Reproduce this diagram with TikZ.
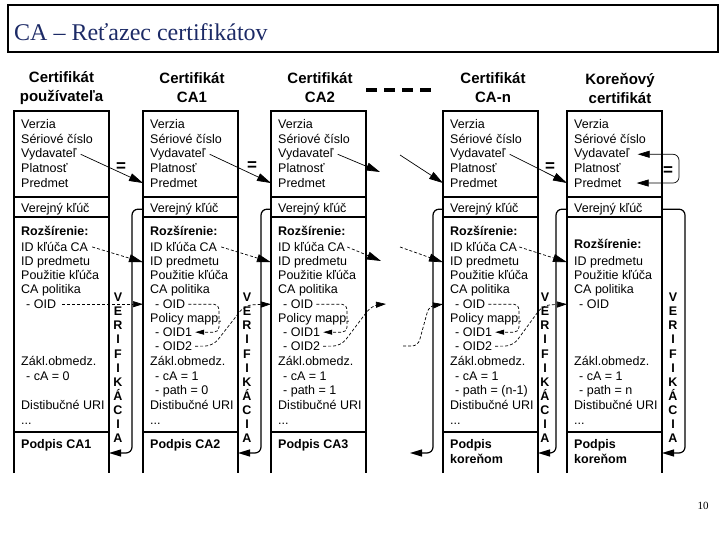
\documentclass[tikz,border=0pt]{standalone}
\usepackage{fontspec}
\setmainfont{Liberation Sans}
\newfontfamily\titlefont{Liberation Serif}
\usetikzlibrary{arrows.meta}
\definecolor{titleblue}{RGB}{28,42,102}

\begin{document}
\begin{tikzpicture}[x=1pt, y=-1pt,
    txt/.style={anchor=base west, inner sep=0pt, yshift=-4.5pt,
      font=\fontsize{12.5}{14}\selectfont},
    txtb/.style={txt, font=\fontsize{12.5}{14}\selectfont\bfseries},
    head/.style={align=center, inner sep=0pt, font=\fontsize{15}{19}\selectfont\bfseries},
    verif/.style={anchor=base, inner sep=0pt, yshift=-4.5pt,
      font=\fontsize{12.5}{14}\selectfont\bfseries},
    eqsign/.style={inner sep=0pt, font=\fontsize{17}{17}\selectfont\bfseries},
    colbox/.style={line width=1.2pt},
    issuer/.style={line width=0.7pt, -{Triangle[length=14pt,width=8pt]}},
    keyid/.style={line width=0.7pt, dash pattern=on 3pt off 2pt,
      -{Triangle[length=14pt,width=8pt]}},
    oidarrow/.style={line width=0.7pt, dash pattern=on 3pt off 2pt,
      -{Triangle[length=10pt,width=6pt]}},
    loopback/.style={line width=0.7pt, dash pattern=on 3pt off 2pt, rounded corners=5pt,
      -{Triangle[length=9pt,width=5pt]}},
    verarrow/.style={line width=1.2pt, rounded corners=6pt,
      -{Triangle[length=12pt,width=7pt]}}]
    \useasboundingbox (0,0) rectangle (720,540);

    \draw[line width=1.5pt] (8,5) rectangle (718,52);
    \node[anchor=base west, inner sep=0pt, text=titleblue,
      font=\titlefont\fontsize{24}{24}\selectfont] (title) at (14,41) {CA – Reťazec certifikátov};
    \node[anchor=base, inner sep=0pt, font=\titlefont\fontsize{11}{11}\selectfont] (pagenum) at (703,509) {10};

    \node[head] (h1) at (61.5,88) {Certifikát\\používateľa};
    \node[head] (h2) at (192,88) {Certifikát\\CA1};
    \node[head] (h3) at (320,88) {Certifikát\\CA2};
    \node[head] (h4) at (493,88) {Certifikát\\CA-n};
    \node[head] (h5) at (620,88) {Koreňový\\certifikát};
    \draw[line width=3.5pt, dash pattern=on 11pt off 7pt] (366,90) -- (433,90);

    \foreach \c/\x in {1/14,2/143,3/271,4/443,5/567} {
      \coordinate (l\c) at (\x,0);
      \coordinate (r\c) at (\x+95,0);
      \draw[colbox] (\x,473) -- (\x,111) -- (\x+95,111) -- (\x+95,473)
        (\x,217) -- (\x+95,217) (\x,432) -- (\x+95,432);
      \draw[line width=2.5pt] (\x,197) -- (\x+95,197);
      \node[txt] (ver\c) at (\x+7,124) {Verzia};
      \node[txt] (ser\c) at (\x+7,139) {Sériové číslo};
      \node[txt] (vyd\c) at (\x+7,153) {Vydavateľ};
      \node[txt] (pla\c) at (\x+7,168) {Platnosť};
      \node[txt] (pred\c) at (\x+7,183) {Predmet};
      \node[txt] (key\c) at (\x+7,208) {Verejný kľúč};
      \node[txt] (idp\c) at (\x+7,261) {ID predmetu};
      \node[txt] (pouz\c) at (\x+7,275) {Použitie kľúča};
      \node[txt] (pol\c) at (\x+7,289) {CA politika};
      \node[txt] (oid\c) at (\x+12,304) {- OID};
      \node[txt] (zakl\c) at (\x+7,361) {Zákl.obmedz.};
      \node[txt] (uri\c) at (\x+7,405) {Distibučné URI};
      \node[txt] (dots\c) at (\x+7,420) {...};
    }
    \foreach \c/\x in {1/14,2/143,3/271,4/443} {
      \node[txtb] (roz\c) at (\x+7,231) {Rozšírenie:};
      \node[txt] (idk\c) at (\x+7,247) {ID kľúča CA};
    }
    \node[txtb] (roz5) at (574,244) {Rozšírenie:};
    \foreach \c/\x in {2/143,3/271,4/443} {
      \node[txt] (map\c) at (\x+7,318) {Policy mapp.};
      \node[txt] (oida\c) at (\x+12,332) {- OID1};
      \node[txt] (oidb\c) at (\x+12,346) {- OID2};
    }
    \node[txt] (ca1) at (26,376) {- cA = 0};
    \node[txt] (ca2) at (155,376) {- cA = 1};
    \node[txt] (ca3) at (283,376) {- cA = 1};
    \node[txt] (ca4) at (455,376) {- cA = 1};
    \node[txt] (ca5) at (579,376) {- cA = 1};
    \node[txt] (path2) at (155,390) {- path = 0};
    \node[txt] (path3) at (283,390) {- path = 1};
    \node[txt] (path4) at (455,390) {- path = (n-1)};
    \node[txt] (path5) at (579,390) {- path = n};
    \node[txtb] (sig1) at (21,444) {Podpis CA1};
    \node[txtb] (sig2) at (150,444) {Podpis CA2};
    \node[txtb] (sig3) at (278,444) {Podpis CA3};
    \node[txtb] (sig4) at (450,444) {Podpis};
    \node[txtb] (sig4b) at (450,459) {koreňom};
    \node[txtb] (sig5) at (574,444) {Podpis};
    \node[txtb] (sig5b) at (574,459) {koreňom};

    \foreach \g in {118,247,545,673}
      \foreach \ch [count=\i] in {V,E,R,I,F,I,K,Á,C,I,A}
        \node[verif] (vl\g-\i) at (\g,283+14.1*\i) {\ch};

    \node[eqsign] (eq1) at (121,167) {=};
    \node[eqsign] (eq2) at (252,166) {=};
    \node[eqsign] (eq4) at (550,167) {=};
    \node[eqsign] (eq5) at (668,171) {=};

    \coordinate (gap1) at (380,172);
    \coordinate (gap2) at (400,155);
    \coordinate (gap3) at (381,261);
    \coordinate (gap4) at (400,247);
    \coordinate (gap5) at (386,304);
    \coordinate (gap6) at (403,346);
    \coordinate (gap7) at (410,453);
    \coordinate (sigarrow) at (0,453);
    \coordinate (rootloop) at (679,168);

    \draw[issuer] ([xshift=4pt]vyd1.east) -- (l2 |- pred2);
    \draw[issuer] ([xshift=4pt]vyd2.east) -- (l3 |- pred3);
    \draw[issuer] ([xshift=4pt]vyd3.east) -- (gap1);
    \draw[issuer] (gap2) -- (l4 |- pred4);
    \draw[issuer] ([xshift=4pt]vyd4.east) -- (l5 |- pred5);

    \draw[keyid] ([xshift=4pt]idk1.east) -- (l2 |- idp2);
    \draw[keyid] ([xshift=4pt]idk2.east) -- (l3 |- idp3);
    \draw[keyid] ([xshift=2pt]idk3.east) -- (gap3);
    \draw[keyid] (gap4) -- (l4 |- idp4);
    \draw[keyid] ([xshift=2pt]idk4.east) -- (l5 |- idp5);

    \draw[oidarrow] ([xshift=6pt]oid1.east) -- (l2 |- oid2);
    \foreach \c/\x in {2/143,3/271,4/443}
      \draw[loopback] ([xshift=3pt]oid\c.east) -| (\x+76,318) |- ([xshift=3pt]oida\c.east);
    \draw[oidarrow, rounded corners=8pt] ([xshift=3pt]oidb2.east) -- (213,346) -- (245,305) -- (l3 |- oid3);
    \draw[oidarrow, rounded corners=8pt] ([xshift=3pt]oidb3.east) -- (341,346) -- (372,305) -- (gap5);
    \draw[oidarrow, rounded corners=6pt] (gap6) -- (418,346) -- (429,306) -- (l4 |- oid4);
    \draw[oidarrow, rounded corners=8pt] ([xshift=3pt]oidb4.east) -- (513,346) -- (543,305) -- (l5 |- oid5);

    \draw[verarrow] (l2 |- key2) -- ++(-11,0) |- (r1 |- sigarrow);
    \draw[verarrow] (l3 |- key3) -- ++(-10,0) |- (r2 |- sigarrow);
    \draw[verarrow] (l4 |- key4) -- ++(-10,0) |- (gap7);
    \draw[verarrow] (l5 |- key5) -- ++(-11,0) |- (r4 |- sigarrow);
    \draw[verarrow] (r5 |- key5) -- ++(23,0) |- (r5 |- sigarrow);

    \draw[line width=0.7pt, rounded corners=6pt,
      {Triangle[length=12pt,width=7pt]}-{Triangle[length=12pt,width=7pt]}]
      ([xshift=8pt]vyd5.east) -| (rootloop) |- ([xshift=15pt]pred5.east);
\end{tikzpicture}
\end{document}
